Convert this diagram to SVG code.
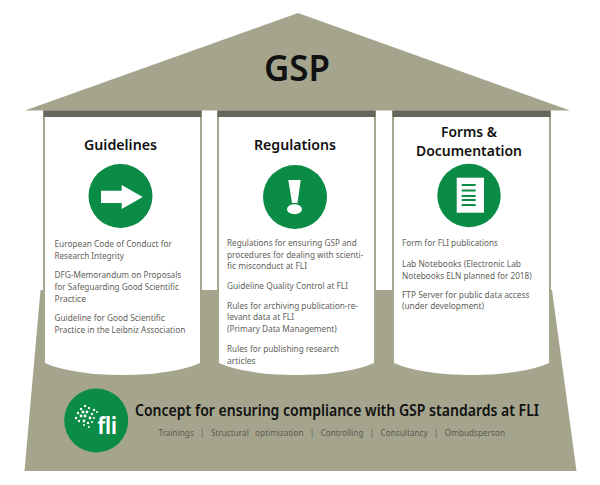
<svg xmlns="http://www.w3.org/2000/svg" width="600" height="485" viewBox="0 0 600 485">
<style>
.f{font-family:"Noto Sans","Open Sans","Liberation Sans",sans-serif}
.b{font-size:9.800px;fill:#5f5f5a}
.h{font-size:14.500px;font-weight:600;fill:#111;text-anchor:middle}
.g{fill:#0a8c47}
.t{fill:#a5a58d}
.d{fill:#66675c}
.w{fill:#fff}
</style>
<rect width="600" height="485" fill="#fff"/>
<g id="base"><path class="t" d="M40.500 290H552L576.500 471H24.500Z"/></g>
<g id="roof"><path class="t" d="M25 110.500L298 13L570 110.500Z"/>
<text class="f" x="297" y="81" font-size="36" font-weight="600" fill="#111" text-anchor="middle" textLength="66" lengthAdjust="spacingAndGlyphs">GSP</text></g>
<g id="pillar-guidelines">
<path class="t" d="M43 110.500H202V291H43Z"/>
<rect class="d" x="43.500" y="110.500" width="158" height="6.500"/>
<path class="w" d="M45 117H200V363A90 24.500 0 0 1 45 363Z"/>
<text class="f h" x="120.500" y="150" textLength="73" lengthAdjust="spacingAndGlyphs">Guidelines</text>
<circle class="g" cx="120.500" cy="196" r="32"/>
<path class="w" d="M101 190.700H121.700V185L142.700 197L121.700 209V203H101Z"/>
<text class="f b" x="54.500" y="247" textLength="117.500" lengthAdjust="spacingAndGlyphs">European Code of Conduct for</text>
<text class="f b" x="54.500" y="258.500" textLength="69.500" lengthAdjust="spacingAndGlyphs">Research Integrity</text>
<text class="f b" x="54.500" y="278" textLength="126.800" lengthAdjust="spacingAndGlyphs">DFG-Memorandum on Proposals</text>
<text class="f b" x="54.500" y="290" textLength="124.500" lengthAdjust="spacingAndGlyphs">for Safeguarding Good Scientific</text>
<text class="f b" x="54.500" y="301.500" textLength="31.500" lengthAdjust="spacingAndGlyphs">Practice</text>
<text class="f b" x="54.500" y="321" textLength="110.200" lengthAdjust="spacingAndGlyphs">Guideline for Good Scientific</text>
<text class="f b" x="54.500" y="332.500" textLength="130.800" lengthAdjust="spacingAndGlyphs">Practice in the Leibniz Association</text>
</g>
<g id="pillar-regulations">
<path class="t" d="M217 110.500H376V291H217Z"/>
<rect class="d" x="217.500" y="110.500" width="158" height="6.500"/>
<path class="w" d="M219 117H374V363A90 24.500 0 0 1 219 363Z"/>
<text class="f h" x="295" y="150" textLength="82" lengthAdjust="spacingAndGlyphs">Regulations</text>
<circle class="g" cx="295" cy="197" r="32"/>
<path class="w" d="M288.300 180H300.700L297.500 203H292Z"/>
<ellipse class="w" cx="294.500" cy="209.300" rx="7.500" ry="5"/>
<text class="f b" x="227" y="246" textLength="129.700" lengthAdjust="spacingAndGlyphs">Regulations for ensuring GSP and</text>
<text class="f b" x="227" y="257.500" textLength="136.300" lengthAdjust="spacingAndGlyphs">procedures for dealing with scienti-</text>
<text class="f b" x="227" y="269" textLength="80" lengthAdjust="spacingAndGlyphs">fic misconduct at FLI</text>
<text class="f b" x="227" y="288.500" textLength="121" lengthAdjust="spacingAndGlyphs">Guideline Quality Control at FLI</text>
<text class="f b" x="227" y="308.500" textLength="131" lengthAdjust="spacingAndGlyphs">Rules for archiving publication-re-</text>
<text class="f b" x="227" y="320" textLength="67" lengthAdjust="spacingAndGlyphs">levant data at FLI</text>
<text class="f b" x="227" y="331.500" textLength="109.700" lengthAdjust="spacingAndGlyphs">(Primary Data Management)</text>
<text class="f b" x="227" y="352" textLength="112" lengthAdjust="spacingAndGlyphs">Rules for publishing research</text>
<text class="f b" x="227" y="363.500" textLength="28.700" lengthAdjust="spacingAndGlyphs">articles</text>
</g>
<g id="pillar-forms">
<path class="t" d="M392 110.500H551V291H392Z"/>
<rect class="d" x="392.500" y="110.500" width="158" height="6.500"/>
<path class="w" d="M394 117H549V363A90 24.500 0 0 1 394 363Z"/>
<text class="f h" x="469" y="137" textLength="56" lengthAdjust="spacingAndGlyphs">Forms &amp;</text>
<text class="f h" x="469" y="156" textLength="106" lengthAdjust="spacingAndGlyphs">Documentation</text>
<circle class="g" cx="469" cy="195.500" r="31.700"/>
<rect class="w" x="456.700" y="177.700" width="27.300" height="35"/>
<path class="g" d="M461.700 184H475.700V186H461.700ZM461.700 189.500H475.700V191.500H461.700ZM461.700 195H475.700V197H461.700ZM461.700 199H475.700V201H461.700ZM461.700 204H475.700V206H461.700Z"/>
<text class="f b" x="402" y="245.700" textLength="96" lengthAdjust="spacingAndGlyphs">Form for FLI publications</text>
<text class="f b" x="402" y="267" textLength="119" lengthAdjust="spacingAndGlyphs">Lab Notebooks (Electronic Lab</text>
<text class="f b" x="402" y="279" textLength="129.700" lengthAdjust="spacingAndGlyphs">Notebooks ELN planned for 2018)</text>
<text class="f b" x="402" y="297.500" textLength="127.500" lengthAdjust="spacingAndGlyphs">FTP Server for public data access</text>
<text class="f b" x="402" y="309" textLength="82" lengthAdjust="spacingAndGlyphs">(under development)</text>
</g>
<g id="concept">
<circle class="g" cx="96.200" cy="420.500" r="32"/>
<g class="w"><circle cx="81" cy="409" r="1.200"/><circle cx="85" cy="406" r="1.200"/><circle cx="89" cy="408" r="1.200"/><circle cx="94" cy="410" r="1.200"/><circle cx="78" cy="413" r="1.200"/><circle cx="83" cy="412" r="1.400"/><circle cx="87" cy="412" r="1.400"/><circle cx="92" cy="414" r="1.200"/><circle cx="97" cy="412" r="1"/><circle cx="76" cy="418" r="1.200"/><circle cx="81" cy="416" r="1.400"/><circle cx="85" cy="416" r="1.400"/><circle cx="90" cy="418" r="1.400"/><circle cx="94" cy="418" r="1"/><circle cx="79" cy="421" r="1.200"/><circle cx="84" cy="421" r="1.400"/><circle cx="88" cy="423" r="1.200"/><circle cx="92" cy="422" r="1"/><circle cx="84" cy="425" r="1"/><circle cx="89" cy="427" r="1"/></g>
<text class="f" x="97.500" y="434" font-size="23" font-weight="700" fill="#fff" textLength="19.500" lengthAdjust="spacingAndGlyphs">fli</text>
<text class="f" x="135" y="416" font-size="16" font-weight="600" fill="#111" textLength="404" lengthAdjust="spacingAndGlyphs">Concept for ensuring compliance with GSP standards at FLI</text>
<text class="f" x="158.500" y="436" font-size="9.800" fill="#5a5b50" word-spacing="5" textLength="346.500" lengthAdjust="spacingAndGlyphs">Trainings | Structural optimization | Controlling | Consultancy | Ombudsperson</text>
</g>
</svg>
